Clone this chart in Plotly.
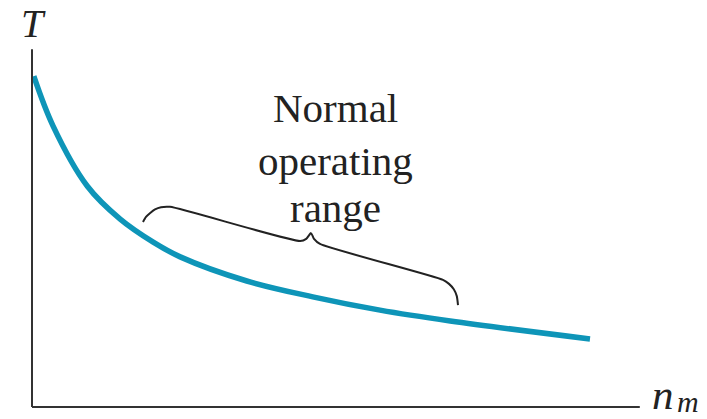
import plotly.graph_objects as go

# Torque-speed curve (arbitrary units)
n_m = [0.03, 0.35, 0.92, 1.47, 2.02, 2.47, 3.58, 4.68, 5.80, 6.97, 9.30]
torque = [9.19, 7.81, 6.14, 5.22, 4.58, 4.17, 3.50, 3.06, 2.69, 2.39, 1.89]

# Brace marking normal operating range
brace_n = [1.85, 1.90, 1.97, 2.05, 2.15, 2.30, 4.47, 4.57, 4.65, 4.70, 4.80, 6.85, 6.95, 7.03, 7.08, 7.10]
brace_T = [5.14, 5.28, 5.39, 5.49, 5.55, 5.56, 4.61, 4.67, 4.83, 4.67, 4.53, 3.53, 3.42, 3.27, 3.08, 2.83]

label_lines = ["Normal", "operating", "range"]
label_T = [8.31, 6.83, 5.53]
axis_n_max = 10.13
axis_T_max = 9.94

fig = go.Figure()
fig.add_trace(go.Scatter(x=n_m, y=torque, mode="lines",
                         line=dict(color="#0e95b8", width=5.5, shape="spline"),
                         showlegend=False, hoverinfo="skip"))
fig.add_trace(go.Scatter(x=brace_n, y=brace_T, mode="lines",
                         line=dict(color="#222222", width=2, shape="spline", smoothing=0.6),
                         showlegend=False, hoverinfo="skip"))

# axes lines
fig.add_shape(type="line", x0=0, y0=0, x1=0, y1=axis_T_max, line=dict(color="#333333", width=2))
fig.add_shape(type="line", x0=0, y0=0, x1=axis_n_max, y1=0, line=dict(color="#333333", width=2))

serif = "Liberation Serif, Times New Roman, serif"
for txt, ty in zip(label_lines, label_T):
    fig.add_annotation(x=5.05, y=ty, text=txt, showarrow=False,
                       font=dict(family=serif, size=41, color="#222222"),
                       xanchor="center", yanchor="middle")
fig.add_annotation(x=0.02, y=10.66, text="<i>T</i>", showarrow=False,
                   font=dict(family=serif, size=40, color="#222222"), xanchor="center", yanchor="middle")
# axis label n_m (n with subscript m)
fig.add_annotation(x=10.3, y=0.36, text="<i>n</i>", showarrow=False,
                   font=dict(family=serif, size=43, color="#222222"), xanchor="left", yanchor="middle")
fig.add_annotation(x=10.72, y=0.14, text="<i>m</i>", showarrow=False,
                   font=dict(family=serif, size=30, color="#222222"), xanchor="left", yanchor="middle")

fig.update_layout(width=707, height=419, autosize=False,
                  margin=dict(l=0, r=0, t=0, b=0),
                  paper_bgcolor="white", plot_bgcolor="white",
                  xaxis=dict(range=[-32/60, 675/60], visible=False, fixedrange=True),
                  yaxis=dict(range=[-12/36, 407/36], visible=False, fixedrange=True))

fig.write_html("out.html", config={"displayModeBar": False},
               post_script="document.body.style.margin='0px';document.body.style.overflow='hidden';")
